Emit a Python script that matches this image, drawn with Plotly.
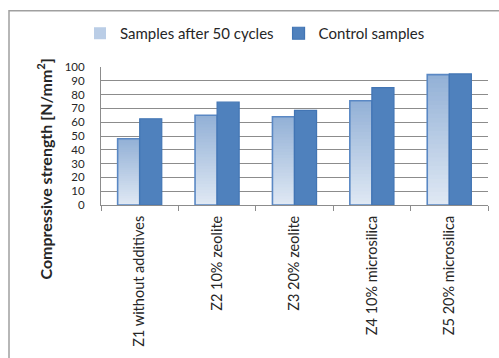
import plotly.graph_objects as go

categories = ["Z1 without additives", "Z2 10% zeolite", "Z3 20% zeolite",
              "Z4 10% microsilica", "Z5 20% microsilica"]
after_50 = [48, 65, 64, 75.5, 94.5]
control = [62.5, 74.5, 68.5, 85, 95]
series_names = ["Samples after 50 cycles", "Control samples"]
y_title = "Compressive strength [N/mm<sup>2</sup>]"

FONT = "Lato"
TXT = "#262626"
GRID = "#8c8c8c"

fig = go.Figure()

# gradient for first series (top darker -> bottom lighter): overlapping bars from 0,
# tallest (darkest) drawn first, shorter lighter ones on top -> no seams
N = 30
top = (146, 176, 214)
bot = (224, 233, 244)
for k in range(N):
    frac = (N - k) / N
    t = (N - k - 0.5) / N
    c = tuple(round(bot[j] + (top[j] - bot[j]) * t) for j in range(3))
    fig.add_trace(go.Bar(
        x=categories,
        y=[v * frac for v in after_50],
        offsetgroup="a",
        marker=dict(color="rgb(%d,%d,%d)" % c, line=dict(width=0)),
        name=series_names[0],
        showlegend=(k == N // 2),
        legendrank=1,
        hoverinfo="skip",
    ))
# outline of first series
fig.add_trace(go.Bar(
    x=categories, y=after_50, offsetgroup="a",
    marker=dict(color="rgba(0,0,0,0)", line=dict(color="#5a88c4", width=1.6)),
    showlegend=False, name=series_names[0],
))
fig.add_trace(go.Bar(
    x=categories, y=control, offsetgroup="c",
    marker=dict(color="#4f81bd", line=dict(color="#4275b4", width=1.2)),
    name=series_names[1], legendrank=2,
))

W, H = 499, 358
L, R, T, B = 101, 11, 67, 151
pw, ph = W - L - R, H - T - B

def px_x(x):
    return (x - L) / pw

def px_y(y):
    return (H - B - y) / ph

fig.update_layout(
    width=W, height=H,
    margin=dict(l=L, r=R, t=T, b=B),
    paper_bgcolor="white", plot_bgcolor="white",
    barmode="group", bargap=0.43, bargroupgap=0,
    font=dict(family=FONT, color=TXT),
    showlegend=True,
    legend=dict(orientation="h", x=px_x(80), xanchor="left",
                y=px_y(33), yanchor="middle",
                font=dict(size=15, family=FONT, color=TXT),
                bgcolor="rgba(0,0,0,0)", itemwidth=30,
                traceorder="normal"),
    xaxis=dict(showline=True, linecolor=GRID, linewidth=1,
               ticks="outside", tickson="boundaries", ticklen=5, tickcolor=GRID,
               tickangle=-90, ticklabelstandoff=4,
               tickfont=dict(size=14.5, family=FONT, color=TXT),
               showgrid=False),
    yaxis=dict(range=[0, 100], dtick=10, showgrid=True, gridcolor=GRID, gridwidth=1,
               showline=True, linecolor=GRID, linewidth=1, ticks="",
               ticklabelstandoff=13,
               tickfont=dict(size=11.5, family=FONT, color=TXT), zeroline=False),
    shapes=[dict(type="rect", xref="paper", yref="paper",
                 x0=px_x(9), x1=px_x(560), y0=px_y(10), y1=px_y(420),
                 line=dict(color="#a0a0a0", width=1.5), fillcolor="rgba(0,0,0,0)",
                 layer="below")],
    annotations=[dict(text="<b>" + y_title + "</b>", xref="paper", yref="paper",
                      x=px_x(45), y=px_y(171), textangle=-90, showarrow=False,
                      xanchor="center", yanchor="middle",
                      font=dict(size=16, family=FONT, color=TXT))],
)

fig.write_html("out.html")
